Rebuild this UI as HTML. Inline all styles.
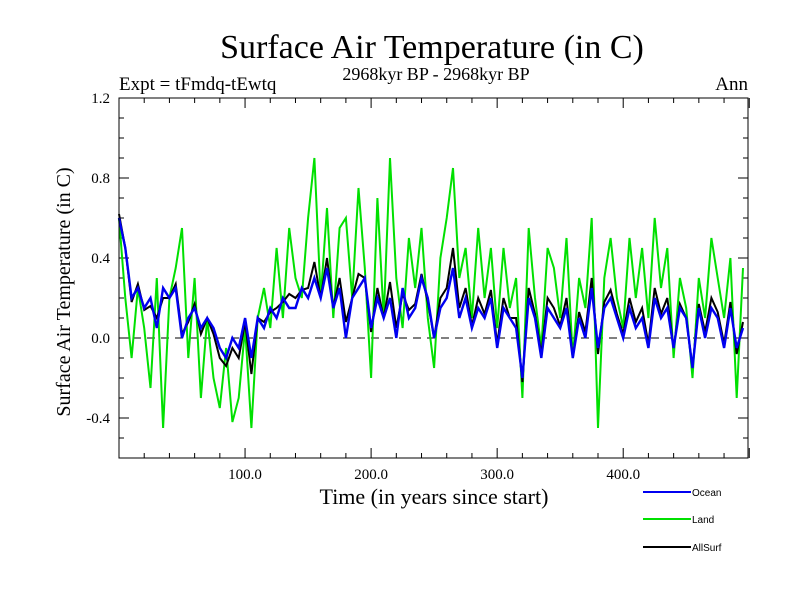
<!DOCTYPE html>
<html><head><meta charset="utf-8"><style>
body{margin:0;background:#fff}
svg text{font-family:"Liberation Serif",serif;fill:#000}
</style></head><body>
<svg id="chart" width="800" height="600" viewBox="0 0 800 600" xmlns="http://www.w3.org/2000/svg">
<text x="432" y="58" font-size="34" text-anchor="middle">Surface Air Temperature (in C)</text>
<text x="436" y="80" font-size="18" text-anchor="middle">2968kyr BP - 2968kyr BP</text>
<text x="119" y="90" font-size="19">Expt = tFmdq-tEwtq</text>
<text x="748" y="90" font-size="19" text-anchor="end">Ann</text>
<text transform="translate(70,292) rotate(-90)" font-size="20" text-anchor="middle">Surface Air Temperature (in C)</text>
<text x="434" y="504" font-size="22" text-anchor="middle">Time (in years since start)</text>
<g id="axes"></g>
<g id="series"></g>
<rect x="119" y="98" width="629" height="360" fill="none" stroke="#000" stroke-width="1"/>
<g id="legend"></g>
</svg>
<script>
const years=[];for(let i=0;i<100;i++)years.push(i*5);
const land=[0.6,0.2,-0.1,0.25,0.05,-0.25,0.3,-0.45,0.2,0.35,
0.55,-0.1,0.3,-0.3,0.1,-0.2,-0.35,-0.05,-0.42,-0.3,
0.05,-0.45,0.1,0.25,0.05,0.45,0.1,0.55,0.3,0.2,
0.6,0.9,0.2,0.65,0.1,0.55,0.6,0.2,0.75,0.35,
-0.2,0.7,0.1,0.9,0.3,0.05,0.5,0.25,0.55,0.1,
-0.15,0.4,0.6,0.85,0.3,0.45,0.1,0.55,0.2,0.45,
0.05,0.45,0.15,0.3,-0.3,0.55,0.2,-0.05,0.45,0.35,
0.1,0.5,-0.1,0.3,0.15,0.6,-0.45,0.3,0.5,0.2,
0.05,0.5,0.2,0.45,0.1,0.6,0.25,0.45,-0.1,0.3,
0.15,-0.2,0.3,0.1,0.5,0.3,0.1,0.4,-0.3,0.35];
const allsurf=[0.62,0.45,0.18,0.27,0.14,0.16,0.1,0.2,0.2,0.27,
0.02,0.08,0.17,0.02,0.1,0.02,-0.1,-0.14,-0.05,-0.1,
0.08,-0.18,0.1,0.08,0.13,0.15,0.18,0.22,0.2,0.24,
0.25,0.38,0.2,0.4,0.15,0.3,0.08,0.2,0.32,0.3,
0.03,0.25,0.1,0.28,0.05,0.22,0.14,0.17,0.32,0.18,
0.0,0.2,0.25,0.45,0.15,0.25,0.06,0.2,0.12,0.24,
-0.03,0.2,0.1,0.1,-0.22,0.25,0.12,-0.08,0.2,0.15,
0.06,0.2,-0.1,0.13,0.03,0.3,-0.08,0.18,0.24,0.12,
0.02,0.2,0.08,0.15,-0.03,0.25,0.12,0.2,-0.05,0.17,
0.1,-0.15,0.17,0.03,0.2,0.13,-0.03,0.18,-0.08,0.08];
const ocean=[0.6,0.45,0.2,0.25,0.15,0.2,0.05,0.25,0.2,0.25,
0.0,0.1,0.15,0.05,0.1,0.05,-0.05,-0.1,0.0,-0.05,
0.1,-0.1,0.1,0.05,0.15,0.1,0.2,0.15,0.15,0.25,
0.2,0.3,0.2,0.35,0.15,0.25,0.0,0.2,0.25,0.3,
0.05,0.2,0.1,0.2,0.0,0.25,0.1,0.15,0.3,0.2,
0.0,0.15,0.2,0.35,0.1,0.2,0.05,0.15,0.1,0.2,
-0.05,0.15,0.1,0.05,-0.2,0.2,0.1,-0.1,0.15,0.1,
0.05,0.15,-0.1,0.1,0.0,0.25,-0.05,0.15,0.2,0.1,
0.0,0.15,0.05,0.1,-0.05,0.2,0.1,0.15,-0.05,0.15,
0.1,-0.15,0.15,0.0,0.15,0.1,-0.05,0.15,-0.05,0.05];
const yTicks=[1.2,0.8,0.4,0.0,-0.4];
const yTickLabels=["1.2","0.8","0.4","0.0","-0.4"];
const xTicks=[100,200,300,400];
const xTickLabels=["100.0","200.0","300.0","400.0"];
const NS="http://www.w3.org/2000/svg";
const X=v=>119+v*629/499;
const Y=v=>338-v*200;
function mk(tag,attrs,parent){const e=document.createElementNS(NS,tag);for(const k in attrs)e.setAttribute(k,attrs[k]);parent.appendChild(e);return e;}
const axes=document.getElementById('axes');
for(let v=-0.6;v<=1.21;v+=0.1){
  const y=Y(v),major=Math.abs(Math.round(v*10)%4)===0;const len=major?10:5;
  const t1=mk('line',{x1:119,x2:119+len,y1:y,y2:y,stroke:'#000'},axes);
  
  
  const t2=mk('line',{x1:748-len,x2:748,y1:y,y2:y,stroke:'#000'},axes);
  
  
}
for(let yr=0;yr<=500;yr+=20){
  const x=X(yr),major=yr%100===0;const len=major?10:5;
  const t1=mk('line',{x1:x,x2:x,y1:458,y2:458-len,stroke:'#000'},axes);
  
  
  const t2=mk('line',{x1:x,x2:x,y1:98,y2:98+len,stroke:'#000'},axes);
  
  
}
yTicks.forEach((v,i)=>{const t=mk('text',{x:110,y:Y(v)+5,'font-size':15,'text-anchor':'end'},axes);t.textContent=yTickLabels[i];
  
  });
xTicks.forEach((v,i)=>{const t=mk('text',{x:X(v),y:479,'font-size':15,'text-anchor':'middle'},axes);t.textContent=xTickLabels[i];
  
  });
const zl=mk('line',{x1:119,x2:748,y1:Y(0),y2:Y(0),stroke:'#000','stroke-dasharray':'8,6'},axes);


const ser=document.getElementById('series');
function path(vals){return vals.map((v,i)=>(i?'L':'M')+X(years[i]).toFixed(1)+','+Y(v).toFixed(1)).join('');}
const pl=mk('path',{d:path(land),fill:'none',stroke:'#00e000','stroke-width':2},ser);


const pa=mk('path',{d:path(allsurf),fill:'none',stroke:'#000','stroke-width':2},ser);


const po=mk('path',{d:path(ocean),fill:'none',stroke:'#0000f0','stroke-width':2.4},ser);


const lg=document.getElementById('legend');
[['Ocean','#0000f0',492],['Land','#00e000',519],['AllSurf','#000',547]].forEach(([n,c,y])=>{
  const l=mk('line',{x1:643,x2:691,y1:y,y2:y,stroke:c,'stroke-width':2},lg);
  
  
  const t=mk('text',{x:692,y:y+4,'font-size':10,style:'font-family:"Liberation Sans",sans-serif'},lg);t.textContent=n;
  
  
});
</script>
</body></html>
